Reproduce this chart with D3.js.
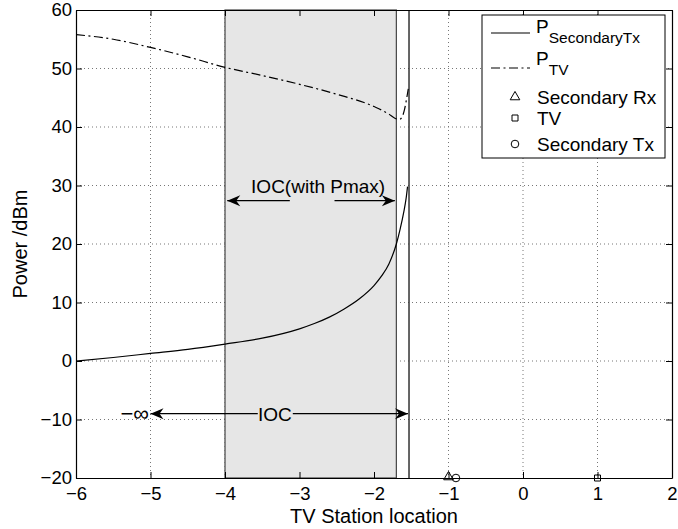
<!DOCTYPE html>
<html>
<head>
<meta charset="utf-8">
<script src="https://cdn.jsdelivr.net/npm/d3@7"></script>
<style>
  body { margin: 0; background: #fff; }
  svg text { font-family: "Liberation Sans", Arial, Helvetica, sans-serif; }
</style>
</head>
<body>
<div id="chart"></div>
<script>
// ---- data ----
var xTicks = [-6, -5, -4, -3, -2, -1, 0, 1, 2];
var yTicks = [-20, -10, 0, 10, 20, 30, 40, 50, 60];

// P_SecondaryTx (solid)
var txLoc   = [-6, -5.5, -5, -4.5, -4, -3.5, -3, -2.8, -2.6, -2.4, -2.2, -2, -1.9, -1.8, -1.7, -1.65, -1.6, -1.57, -1.55];
var txPower = [0, 0.6, 1.3, 2.0, 2.9, 3.9, 5.5, 6.4, 7.5, 8.9, 10.6, 12.9, 14.5, 16.6, 20.0, 22.5, 25.5, 27.7, 29.8];

// P_TV (dash-dot)
var tvLoc   = [-6, -5.5, -5, -4.5, -4, -3.5, -3, -2.5, -2, -1.8, -1.72, -1.66, -1.62, -1.59, -1.56, -1.54];
var tvPower = [55.8, 55.0, 53.6, 52.0, 50.2, 48.8, 47.3, 45.6, 43.5, 42.2, 41.5, 41.3, 41.8, 43.0, 45.0, 46.5];

// IOC boundaries: shaded region (with Pmax) and the IOC limit
var iocStart = -4;
var iocPmaxEnd = -1.7;
var iocEnd = -1.53;

// location markers (at the bottom of the axes)
var rxPos = [-1, -20];
var tvPos = [1, -20];
var stxPos = [-0.9, -20];

function init() {
    var w = 678, h = 529;
    var left = 76, right = 672, top = 10, bottom = 478;

    var svg = d3.select("#chart").append("svg")
        .attr("width", w)
        .attr("height", h);

    var x = d3.scaleLinear().domain([-6, 2]).range([left, right]);
    var y = d3.scaleLinear().domain([-20, 60]).range([bottom, top]);

    var defs = svg.append("defs");
    defs.append("marker")
        .attr("id", "arrow")
        .attr("viewBox", "-14 -6 16 12")
        .attr("refX", 0).attr("refY", 0)
        .attr("markerWidth", 16).attr("markerHeight", 12)
        .attr("markerUnits", "userSpaceOnUse")
        .attr("orient", "auto")
        .append("path")
        .attr("d", "M0,0 L-13,-5.5 L-9,0 L-13,5.5 Z")
        .attr("fill", "#000");

    // grid
    var grid = svg.append("g");
    grid.selectAll(".gx").data(xTicks.slice(1, -1)).enter().append("line")
        .attr("x1", function(d){ return x(d); }).attr("x2", function(d){ return x(d); })
        .attr("y1", top).attr("y2", bottom)
        .attr("stroke", "#777").attr("stroke-width", 1)
        .attr("stroke-dasharray", "1,3");
    grid.selectAll(".gy").data(yTicks.slice(1, -1)).enter().append("line")
        .attr("y1", function(d){ return y(d); }).attr("y2", function(d){ return y(d); })
        .attr("x1", left).attr("x2", right)
        .attr("stroke", "#777").attr("stroke-width", 1)
        .attr("stroke-dasharray", "1,3");

    // shaded IOC (with Pmax) region
    svg.append("rect")
        .attr("x", x(iocStart)).attr("y", top)
        .attr("width", x(iocPmaxEnd) - x(iocStart))
        .attr("height", bottom - top)
        .attr("fill", "#e6e6e6")
        .attr("stroke", "#444").attr("stroke-width", 1.2);

    svg.append("line")
        .attr("x1", x(iocEnd)).attr("x2", x(iocEnd))
        .attr("y1", top).attr("y2", bottom)
        .attr("stroke", "#333").attr("stroke-width", 1.5);

    // curves
    var txData = txLoc.map(function(d, i){ return [d, txPower[i]]; });
    var tvData = tvLoc.map(function(d, i){ return [d, tvPower[i]]; });
    var line = d3.line()
        .x(function(d){ return x(d[0]); })
        .y(function(d){ return y(d[1]); })
        .curve(d3.curveMonotoneX);

    svg.append("path").datum(txData)
        .attr("d", line)
        .attr("fill", "none").attr("stroke", "#000").attr("stroke-width", 1.2);
    svg.append("path").datum(tvData)
        .attr("d", line)
        .attr("fill", "none").attr("stroke", "#000").attr("stroke-width", 1.2)
        .attr("stroke-dasharray", "9,3.5,2,3.5");

    // annotations
    var ann = svg.append("g").attr("font-size", "19px").attr("fill", "#000");
    ann.append("text")
        .attr("x", x(-2.75)).attr("y", y(30) + 7)
        .attr("text-anchor", "middle")
        .text("IOC(with Pmax)");
    ann.append("line")
        .attr("x1", x(-3.13)).attr("y1", y(27.4))
        .attr("x2", x(-3.97)).attr("y2", y(27.4))
        .attr("stroke", "#000").attr("stroke-width", 1.2)
        .attr("marker-end", "url(#arrow)");
    ann.append("line")
        .attr("x1", x(-2.53)).attr("y1", y(27.4))
        .attr("x2", x(-1.72)).attr("y2", y(27.4))
        .attr("stroke", "#000").attr("stroke-width", 1.2)
        .attr("marker-end", "url(#arrow)");

    ann.append("text")
        .attr("x", x(-3.33)).attr("y", y(-9) + 7)
        .attr("text-anchor", "middle")
        .text("IOC");
    ann.append("line")
        .attr("x1", x(-3.56)).attr("y1", y(-9))
        .attr("x2", x(-5.0)).attr("y2", y(-9))
        .attr("stroke", "#000").attr("stroke-width", 1.2)
        .attr("marker-end", "url(#arrow)");
    ann.append("line")
        .attr("x1", x(-3.09)).attr("y1", y(-9))
        .attr("x2", x(iocEnd) - 1).attr("y2", y(-9))
        .attr("stroke", "#000").attr("stroke-width", 1.2)
        .attr("marker-end", "url(#arrow)");
    ann.append("text")
        .attr("x", x(-5.02)).attr("y", y(-9) + 7)
        .attr("text-anchor", "end")
        .attr("font-size", "22px")
        .text("\u2212\u221E");

    // markers on the axis
    var tri = d3.symbol().type(d3.symbolTriangle).size(40);
    var sq = d3.symbol().type(d3.symbolSquare).size(36);
    svg.append("path").attr("d", tri)
        .attr("transform", "translate(" + x(rxPos[0]) + "," + (y(rxPos[1]) - 1) + ")")
        .attr("fill", "none").attr("stroke", "#000").attr("stroke-width", 1);
    svg.append("path").attr("d", sq)
        .attr("transform", "translate(" + x(tvPos[0]) + "," + y(tvPos[1]) + ")")
        .attr("fill", "none").attr("stroke", "#000").attr("stroke-width", 1);
    svg.append("circle")
        .attr("cx", x(stxPos[0])).attr("cy", y(stxPos[1]))
        .attr("r", 3.8)
        .attr("fill", "none").attr("stroke", "#000").attr("stroke-width", 1);

    // axes with inward ticks on all sides
    var fmt = function(d){ return d < 0 ? "\u2212" + Math.abs(d) : d; };
    var axB = d3.axisBottom(x).tickValues(xTicks).tickSizeInner(-6).tickSizeOuter(0)
        .tickPadding(9).tickFormat(fmt);
    var axT = d3.axisTop(x).tickValues(xTicks).tickSizeInner(-6).tickSizeOuter(0).tickFormat("");
    var axL = d3.axisLeft(y).tickValues(yTicks).tickSizeInner(-6).tickSizeOuter(0)
        .tickPadding(4).tickFormat(fmt);
    var axR = d3.axisRight(y).tickValues(yTicks).tickSizeInner(-6).tickSizeOuter(0).tickFormat("");

    var gB = svg.append("g").attr("transform", "translate(0," + bottom + ")").call(axB);
    var gT = svg.append("g").attr("transform", "translate(0," + top + ")").call(axT);
    var gL = svg.append("g").attr("transform", "translate(" + left + ",0)").call(axL);
    var gR = svg.append("g").attr("transform", "translate(" + right + ",0)").call(axR);
    [gB, gT, gL, gR].forEach(function(g){
        g.select(".domain").attr("stroke", "#000").attr("stroke-width", 1.2);
        g.selectAll(".tick line").attr("stroke", "#000");
        g.selectAll("text").attr("font-size", "18.5px").attr("fill", "#000")
            .attr("font-family", "Liberation Sans, Arial, sans-serif");
    });

    // axis titles
    svg.append("text")
        .attr("x", (left + right) / 2).attr("y", 523)
        .attr("text-anchor", "middle").attr("font-size", "20px")
        .text("TV Station location");
    svg.append("text")
        .attr("transform", "translate(27," + ((top + bottom) / 2) + ") rotate(-90)")
        .attr("text-anchor", "middle").attr("font-size", "20px")
        .text("Power /dBm");

    // legend
    var lg = svg.append("g");
    lg.append("rect")
        .attr("x", 482).attr("y", 15).attr("width", 183).attr("height", 143)
        .attr("fill", "#fff").attr("stroke", "#000").attr("stroke-width", 1);

    lg.append("line").attr("x1", 491).attr("x2", 530).attr("y1", 33).attr("y2", 33)
        .attr("stroke", "#000").attr("stroke-width", 1.2);
    var t1 = lg.append("text").attr("x", 536).attr("y", 33).attr("font-size", "19px");
    t1.append("tspan").text("P");
    t1.append("tspan").attr("dy", 10).attr("font-size", "15.5px").text("SecondaryTx");

    lg.append("line").attr("x1", 491).attr("x2", 530).attr("y1", 68).attr("y2", 68)
        .attr("stroke", "#000").attr("stroke-width", 1.2)
        .attr("stroke-dasharray", "9,3.5,2,3.5");
    var t2 = lg.append("text").attr("x", 536).attr("y", 65).attr("font-size", "19px");
    t2.append("tspan").text("P");
    t2.append("tspan").attr("dy", 10).attr("font-size", "15.5px").text("TV");

    lg.append("path").attr("d", tri)
        .attr("transform", "translate(515,97)")
        .attr("fill", "none").attr("stroke", "#000");
    lg.append("text").attr("x", 537).attr("y", 104).attr("font-size", "19px").text("Secondary Rx");

    lg.append("path").attr("d", sq)
        .attr("transform", "translate(515,118)")
        .attr("fill", "none").attr("stroke", "#000");
    lg.append("text").attr("x", 537).attr("y", 125).attr("font-size", "19px").text("TV");

    lg.append("circle").attr("cx", 515).attr("cy", 144).attr("r", 3.8)
        .attr("fill", "none").attr("stroke", "#000");
    lg.append("text").attr("x", 537).attr("y", 151).attr("font-size", "19px").text("Secondary Tx");
}

window.onload = init;
</script>
</body>
</html>
